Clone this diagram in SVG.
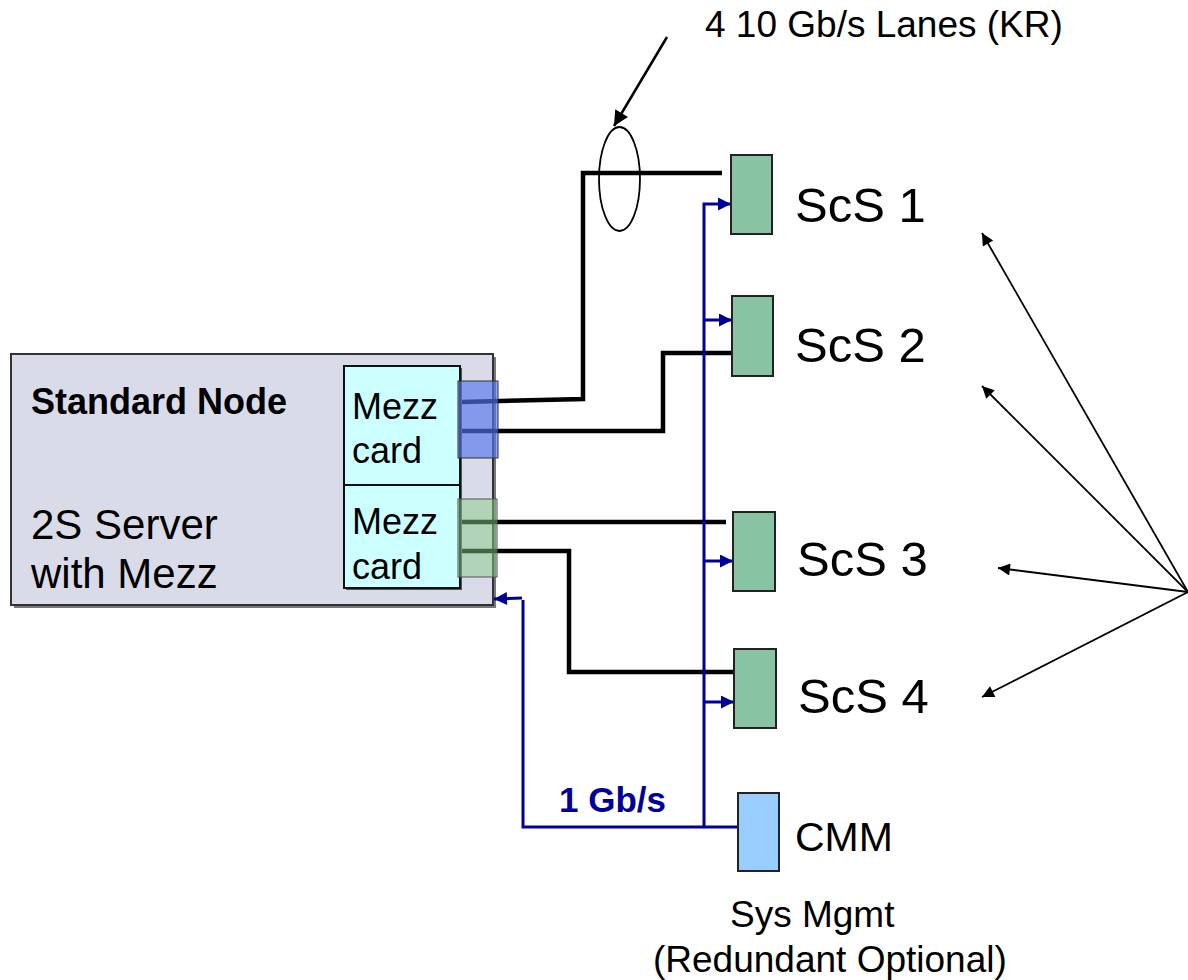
<svg xmlns="http://www.w3.org/2000/svg" width="1188" height="980" viewBox="0 0 1188 980">
<style>
text{font-family:"Liberation Sans",Arial,sans-serif;fill:#000}
.scs{fill:#88c4a4;stroke:#222;stroke-width:2}
.lane{fill:none;stroke:#000;stroke-width:4.5}
.mgmt{fill:none;stroke:#000099;stroke-width:3}
.thin{fill:none;stroke:#000;stroke-width:1.8}
</style>
<defs>
<marker id="bh" viewBox="0 0 10 10" refX="10" refY="5" markerWidth="15" markerHeight="13" orient="auto" markerUnits="userSpaceOnUse"><path d="M0,0L10,5L0,10z" fill="#000099"/></marker>
<marker id="kh" viewBox="0 0 10 10" refX="10" refY="5" markerWidth="15" markerHeight="12" orient="auto" markerUnits="userSpaceOnUse"><path d="M0,0L10,5L0,10z" fill="#000"/></marker>
<marker id="kh2" viewBox="0 0 10 10" refX="10" refY="5" markerWidth="16" markerHeight="15" orient="auto" markerUnits="userSpaceOnUse"><path d="M0,0L10,5L0,10z" fill="#000"/></marker>
</defs>

<g id="server">
<rect x="14" y="357" width="482" height="251" fill="#777"/>
<rect x="11" y="354" width="482" height="251" fill="#dadbe9" stroke="#333" stroke-width="2"/>
<text x="31" y="414" font-size="36" font-weight="bold">Standard Node</text>
<text x="31" y="539" font-size="42">2S Server</text>
<text x="31" y="588" font-size="42">with Mezz</text>
</g>

<g id="mezz1">
<rect x="346" y="368" width="116" height="119" fill="#555"/>
<rect x="344" y="366" width="116" height="119" fill="#ccffff" stroke="#111" stroke-width="2"/>
<text x="352" y="419" font-size="36">Mezz</text>
<text x="352" y="463" font-size="36">card</text>
</g>
<g id="mezz2">
<rect x="346" y="487" width="116" height="103" fill="#555"/>
<rect x="344" y="485" width="116" height="103" fill="#ccffff" stroke="#111" stroke-width="2"/>
<text x="352" y="534" font-size="36">Mezz</text>
<text x="352" y="579" font-size="36">card</text>
</g>

<g id="connectors">
<path class="lane" d="M462,402 L583,399 V173 H722"/>
<path class="lane" d="M462,431 H663 V353 H734"/>
<path class="lane" d="M462,522 H726"/>
<path class="lane" d="M462,551 H569 V672 H734"/>
<path class="mgmt" d="M704,827 V204 H731" marker-end="url(#bh)"/>
<path class="mgmt" d="M704,320 H732" marker-end="url(#bh)"/>
<path class="mgmt" d="M704,561 H733" marker-end="url(#bh)"/>
<path class="mgmt" d="M704,702 H734" marker-end="url(#bh)"/>
<path class="mgmt" d="M738,827 H523 V600"/>
<path class="mgmt" d="M522,598 L494,599" marker-end="url(#bh)"/>
<ellipse cx="619.5" cy="179" rx="20.5" ry="52" fill="none" stroke="#000" stroke-width="1.8"/>
<path d="M667,37 L614,126" fill="none" stroke="#000" stroke-width="2.5" marker-end="url(#kh2)"/>
<path class="thin" d="M1188,592 L982,233" marker-end="url(#kh)"/>
<path class="thin" d="M1188,592 L982,386" marker-end="url(#kh)"/>
<path class="thin" d="M1188,592 L998,568" marker-end="url(#kh)"/>
<path class="thin" d="M1188,592 L982,697" marker-end="url(#kh)"/>
</g>

<g id="port1"><rect x="458" y="381" width="40" height="77" fill="#5577ee" fill-opacity="0.65" stroke="#333" stroke-width="1"/></g>
<g id="port2"><rect x="458" y="499" width="39" height="78" fill="#88cc88" fill-opacity="0.5" stroke="#555" stroke-width="1"/></g>

<g id="scs1"><rect class="scs" x="731" y="155" width="41" height="79"/><text x="795" y="222" font-size="49">ScS 1</text></g>
<g id="scs2"><rect class="scs" x="732" y="296" width="41" height="80"/><text x="795" y="362" font-size="49">ScS 2</text></g>
<g id="scs3"><rect class="scs" x="733" y="512" width="42" height="79"/><text x="797" y="576" font-size="49">ScS 3</text></g>
<g id="scs4"><rect class="scs" x="734" y="649" width="42" height="79"/><text x="798" y="713" font-size="49">ScS 4</text></g>
<g id="cmm"><rect x="738" y="793" width="41" height="78" fill="#99ccff" stroke="#222" stroke-width="2"/><text x="795" y="851" font-size="41">CMM</text></g>

<g id="labels">
<text x="705" y="37" font-size="37">4 10 Gb/s Lanes (KR)</text>
<text x="559" y="812" font-size="35" font-weight="bold" style="fill:#000099">1 Gb/s</text>
<text x="730" y="927" font-size="37">Sys Mgmt</text>
<text x="653" y="972" font-size="37">(Redundant Optional)</text>
</g>
</svg>
